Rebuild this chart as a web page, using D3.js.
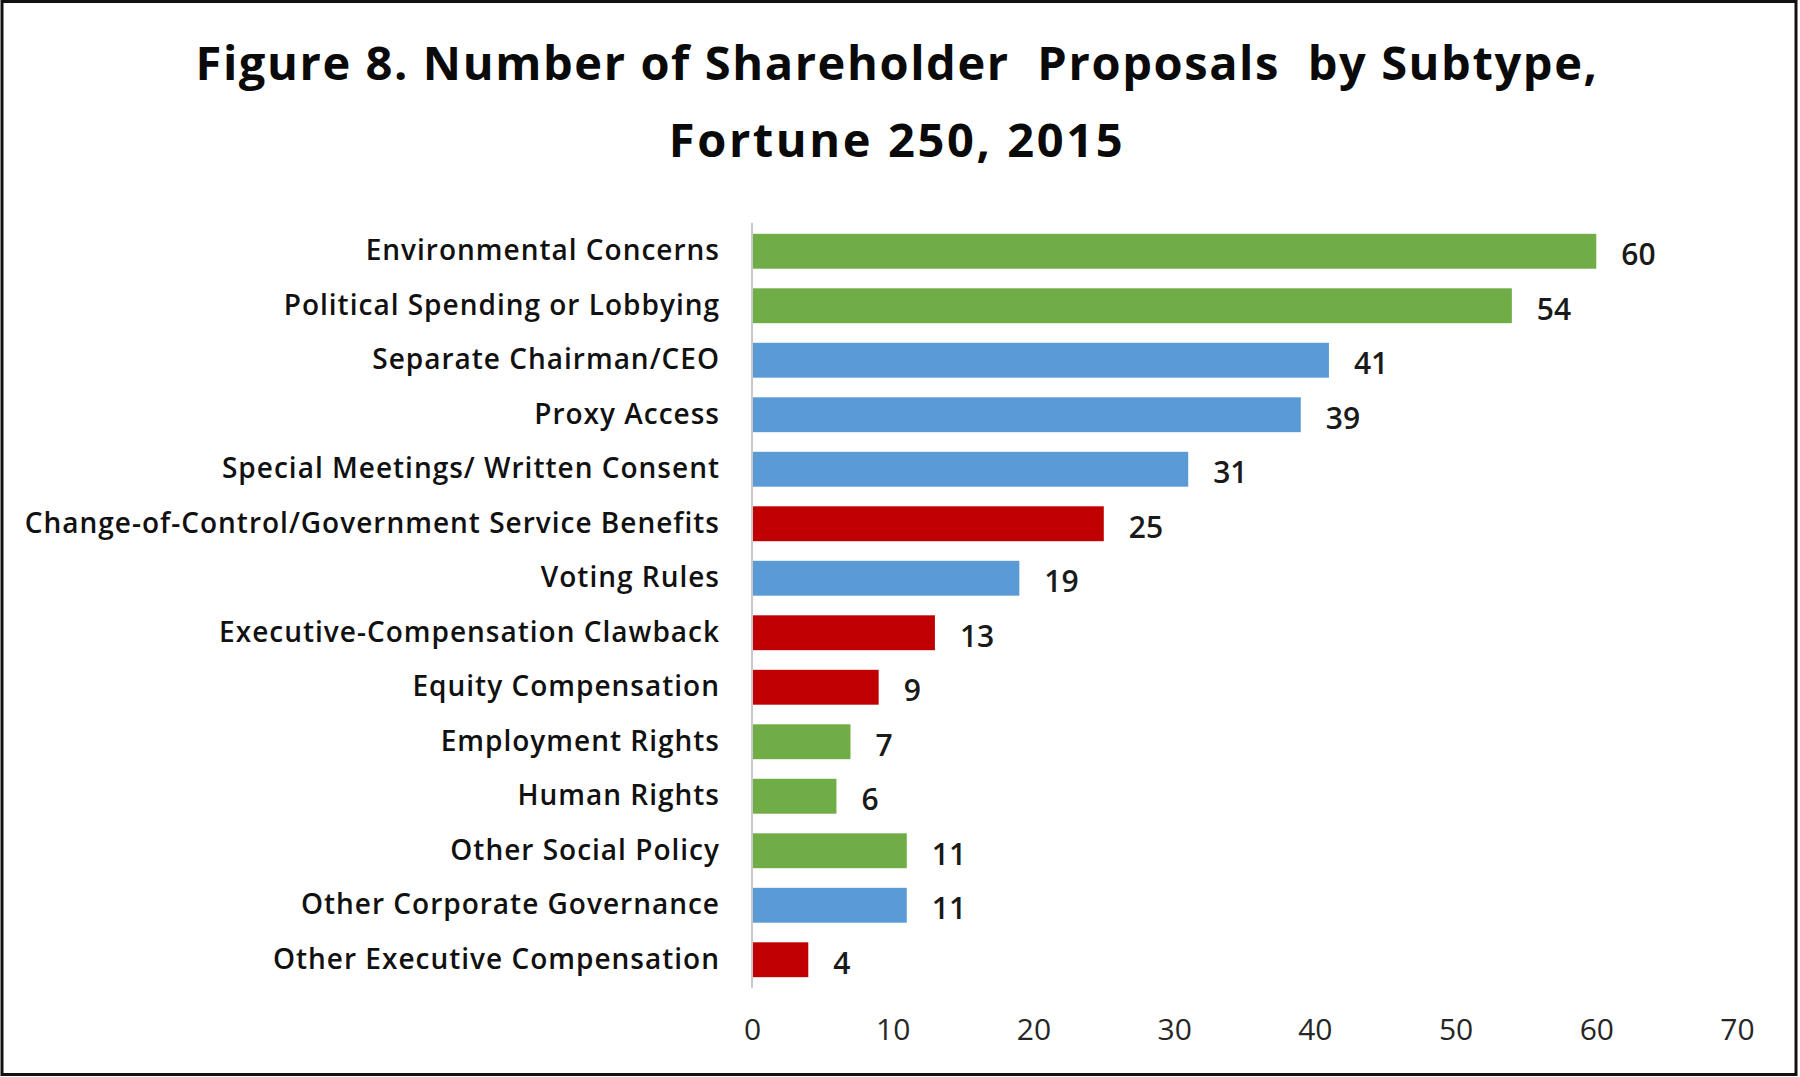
<!DOCTYPE html>
<html>
<head>
<meta charset="utf-8">
<script src="https://cdn.jsdelivr.net/npm/d3@7"></script>
<style>
  html, body { margin: 0; padding: 0; background: #fff; }
  svg { display: block; }
</style>
</head>
<body>
<svg id="chart" width="1800" height="1077"></svg>
<script>
const categories = [
  "Environmental Concerns",
  "Political Spending or Lobbying",
  "Separate Chairman/CEO",
  "Proxy Access",
  "Special Meetings/ Written Consent",
  "Change-of-Control/Government Service Benefits",
  "Voting Rules",
  "Executive-Compensation Clawback",
  "Equity Compensation",
  "Employment Rights",
  "Human Rights",
  "Other Social Policy",
  "Other Corporate Governance",
  "Other Executive Compensation"
];
const values = [60, 54, 41, 39, 31, 25, 19, 13, 9, 7, 6, 11, 11, 4];
const groups = ["Social", "Social", "Governance", "Governance", "Governance", "Compensation",
  "Governance", "Compensation", "Compensation", "Social", "Social", "Social", "Governance", "Compensation"];
const groupNames = ["Social", "Governance", "Compensation"];
const groupColors = ["#70AD47", "#5B9BD5", "#C00000"];
const tickValues = [0, 10, 20, 30, 40, 50, 60, 70];
const titleLines = ["Figure 8. Number of Shareholder  Proposals  by Subtype,", "Fortune 250, 2015"];

const data = categories.map((c, i) => ({ cat: c, val: values[i], grp: groups[i] }));

const svg = d3.select("#chart");
const W = 1800, H = 1077;

// border
svg.append("rect")
  .attr("x", 2).attr("y", 1.5).attr("width", W - 6).attr("height", H - 4)
  .attr("fill", "#fff").attr("stroke", "#111").attr("stroke-width", 3);

const x = d3.scaleLinear().domain([0, 70]).range([752, 1737]);
const y = d3.scaleBand().domain(categories).range([224, 987]).paddingInner(0.36).paddingOuter(0.18);
const color = d3.scaleOrdinal().domain(groupNames).range(groupColors);

// title
svg.append("g").selectAll("text").data(titleLines).join("text")
  .attr("x", 897)
  .attr("y", (d, i) => i === 0 ? 80 : 157)
  .attr("text-anchor", "middle")
  .attr("font-family", "'Open Sans', 'Noto Sans', sans-serif")
  .attr("font-weight", 700)
  .attr("font-size", 47)
  .attr("letter-spacing", (d, i) => i === 0 ? 1.6 : 2.6)
  .style("white-space", "pre")
  .attr("fill", "#0a0a0a")
  .text(d => d);

// bars
svg.append("g").selectAll("rect").data(data).join("rect")
  .attr("x", x(0))
  .attr("y", d => y(d.cat))
  .attr("width", d => x(d.val) - x(0))
  .attr("height", y.bandwidth())
  .attr("fill", d => color(d.grp));

// vertical axis line (category axis)
const yAxis = d3.axisLeft(y).tickSize(0).tickPadding(32);
const gy = svg.append("g").attr("transform", `translate(${x(0)},0)`).call(yAxis);
gy.select(".domain").attr("stroke", "#c8c8c8").attr("stroke-width", 2)
  .attr("d", `M0,223V988`);
gy.selectAll(".tick text")
  .attr("font-family", "'Open Sans', 'Noto Sans', sans-serif")
  .attr("font-weight", 600)
  .attr("font-size", 28)
  .attr("letter-spacing", 1)
  .attr("fill", "#111")
  .attr("dy", null)
  .attr("y", 9);

// value labels
svg.append("g").selectAll("text").data(data).join("text")
  .attr("x", d => x(d.val) + 25)
  .attr("y", d => y(d.cat) + y.bandwidth() / 2 + 14)
  .attr("font-family", "'Open Sans', 'Noto Sans', sans-serif")
  .attr("font-weight", 600)
  .attr("font-size", 30)
  .attr("fill", "#1a1a1a")
  .text(d => d.val);

// x axis (labels only)
const xAxis = d3.axisBottom(x).tickValues(tickValues).tickSize(0).tickPadding(0);
const gx = svg.append("g").call(xAxis);
gx.select(".domain").remove();
gx.selectAll(".tick text")
  .attr("font-family", "'Open Sans', 'Noto Sans', sans-serif")
  .attr("font-weight", 400)
  .attr("font-size", 30)
  .attr("fill", "#262626")
  .attr("dy", null)
  .attr("y", 1040);
</script>
</body>
</html>
